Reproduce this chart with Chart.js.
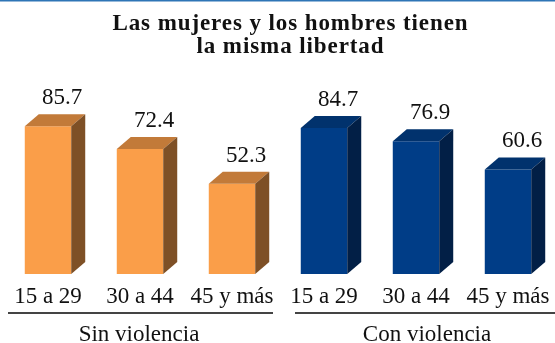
<!DOCTYPE html>
<html>
<head>
<meta charset="utf-8">
<script src="https://cdn.jsdelivr.net/npm/chart.js@4"></script>
<style>
  html, body { margin: 0; padding: 0; background: #fff; }
  #chart { display: block; }
</style>
</head>
<body>
<canvas id="chart" width="555" height="343"></canvas>
<script>
// Data
const titleLines = ['Las mujeres y los hombres tienen', 'la misma libertad'];
const groupNames = ['Sin violencia', 'Con violencia'];
const ageGroups = ['15 a 29', '30 a 44', '45 y más'];
const sinViolencia = [85.7, 72.4, 52.3];
const conViolencia = [84.7, 76.9, 60.6];

// Face colours for the 3D boxes: front, top, side
const orange = { front: '#FA9E49', top: '#C27A39', side: '#7E5026' };
const blue = { front: '#003D87', top: '#01326D', side: '#021F46' };

const labels = [...ageGroups, ...ageGroups];
const values = [...sinViolencia, ...conViolencia];
const faces = [...sinViolencia.map(() => orange), ...conViolencia.map(() => blue)];

const DEPTH_X = 14;
const DEPTH_Y = 12;
const SERIF = '"Liberation Serif", "Times New Roman", serif';

// Draws the top/side faces, the value labels and all the text around the bars
const boxPlugin = {
  id: 'box3d',
  afterDatasetsDraw(chart) {
    const ctx = chart.ctx;
    const meta = chart.getDatasetMeta(0);
    ctx.save();

    meta.data.forEach((bar, i) => {
      const { x, y, base, width } = bar.getProps(['x', 'y', 'base', 'width'], true);
      const l = x - width / 2, r = x + width / 2;
      const f = faces[i];

      // top face
      ctx.fillStyle = f.top;
      ctx.beginPath();
      ctx.moveTo(l, y);
      ctx.lineTo(l + DEPTH_X, y - DEPTH_Y);
      ctx.lineTo(r + DEPTH_X, y - DEPTH_Y);
      ctx.lineTo(r, y);
      ctx.closePath();
      ctx.fill();

      // side face
      ctx.fillStyle = f.side;
      ctx.beginPath();
      ctx.moveTo(r, y);
      ctx.lineTo(r + DEPTH_X, y - DEPTH_Y);
      ctx.lineTo(r + DEPTH_X, base - DEPTH_Y);
      ctx.lineTo(r, base);
      ctx.closePath();
      ctx.fill();

      // value label
      ctx.fillStyle = '#111';
      ctx.font = '23px ' + SERIF;
      ctx.textAlign = 'center';
      ctx.textBaseline = 'alphabetic';
      ctx.fillText(values[i].toFixed(1), x + 14, y - 22);

      // category label
      ctx.fillText(labels[i], x, 303);
    });

    // group lines and names
    ctx.fillStyle = '#444';
    ctx.fillRect(8, 312, 265, 2);
    ctx.fillRect(295, 312, 260, 2);
    ctx.fillStyle = '#111';
    ctx.font = '23px ' + SERIF;
    ctx.fillText(groupNames[0], 139, 341);
    ctx.fillText(groupNames[1], 427, 341);

    // title, spread to its width
    ctx.font = 'bold 23px ' + SERIF;
    const target = 355;
    const plain = ctx.measureText(titleLines[0]).width;
    const spacing = Math.max(0, (target - plain) / (titleLines[0].length - 1));
    ctx.letterSpacing = spacing.toFixed(2) + 'px';
    ctx.fillText(titleLines[0], 290 + spacing / 2, 30);
    ctx.fillText(titleLines[1], 290 + spacing / 2, 53);
    ctx.letterSpacing = '0px';

    // thin rule along the top edge
    ctx.fillStyle = '#2E75B6';
    ctx.fillRect(0, 0, 555, 1.5);

    ctx.restore();
  }
};

new Chart(document.getElementById('chart'), {
  type: 'bar',
  data: {
    labels: labels,
    datasets: [{
      data: values,
      backgroundColor: faces.map(f => f.front),
      borderWidth: 0,
      barPercentage: 0.505,
      categoryPercentage: 1.0
    }]
  },
  options: {
    responsive: false,
    devicePixelRatio: 1,
    animation: false,
    layout: { padding: { left: 2, right: 1, top: 101.5, bottom: 69 } },
    scales: {
      x: { display: false },
      y: { display: false, min: 0, max: 100 }
    },
    plugins: {
      legend: { display: false },
      title: { display: false },
      tooltip: { enabled: false }
    }
  },
  plugins: [boxPlugin]
});
</script>
</body>
</html>
